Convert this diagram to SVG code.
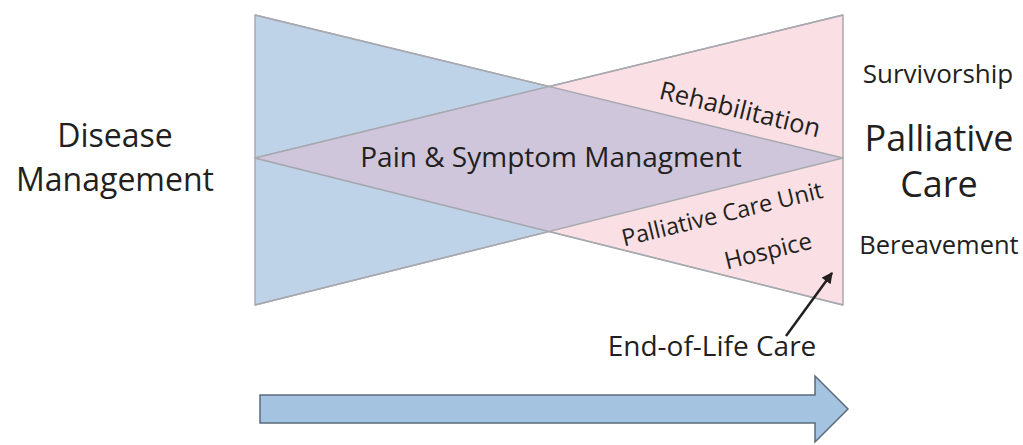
<svg xmlns="http://www.w3.org/2000/svg" width="1023" height="445" viewBox="0 0 1023 445">
<style>
text{font-family:"Open Sans","Liberation Sans",sans-serif;fill:#231f20}
.edge{stroke:#a8a9b0;stroke-width:1.5;stroke-linejoin:round}
</style>
<defs>
<marker id="ah" viewBox="0 0 10 10" refX="9" refY="5" markerWidth="12" markerHeight="11" orient="auto" markerUnits="userSpaceOnUse">
<path d="M0,0 L10,5 L0,10 z" fill="#231f20"/>
</marker>
<clipPath id="blueClip"><polygon points="255,15 843,158 255,305"/></clipPath>
</defs>
<rect width="1023" height="445" fill="#ffffff"/>
<g id="blue-triangle">
<polygon class="edge" points="255,15 843,158 255,305" fill="#bfd3e8"/>
</g>
<g id="pink-triangle">
<polygon class="edge" points="843,15 843,305 255,158" fill="#fae0e4"/>
</g>
<g id="overlap">
<polygon points="843,15 843,305 255,158" fill="#cfc6dc" clip-path="url(#blueClip)"/>
<line class="edge" x1="255" y1="15" x2="843" y2="158"/>
<line class="edge" x1="255" y1="305" x2="843" y2="158"/>
<line class="edge" x1="843" y1="15" x2="255" y2="158"/>
<line class="edge" x1="843" y1="305" x2="255" y2="158"/>
</g>
<g id="disease-management">
<text x="115" y="147" font-size="32" text-anchor="middle">Disease</text>
<text x="115" y="191" font-size="32" text-anchor="middle">Management</text>
</g>
<g id="pain-symptom">
<text x="551" y="167" font-size="28" text-anchor="middle">Pain &amp; Symptom Managment</text>
</g>
<g id="rehabilitation">
<text transform="translate(738,118) rotate(13.7)" font-size="25.5" text-anchor="middle">Rehabilitation</text>
</g>
<g id="palliative-care-unit">
<text transform="translate(724,222) rotate(-13.7)" font-size="23.5" text-anchor="middle">Palliative Care Unit</text>
</g>
<g id="hospice">
<text transform="translate(770,259) rotate(-13.7)" font-size="24" text-anchor="middle">Hospice</text>
</g>
<g id="survivorship">
<text x="938" y="83" font-size="26" text-anchor="middle">Survivorship</text>
</g>
<g id="palliative-care">
<text x="939" y="151" font-size="36" text-anchor="middle">Palliative</text>
<text x="939" y="197" font-size="36" text-anchor="middle">Care</text>
</g>
<g id="bereavement">
<text x="939" y="254" font-size="25.5" text-anchor="middle">Bereavement</text>
</g>
<g id="end-of-life">
<text x="712" y="356" font-size="28" text-anchor="middle">End-of-Life Care</text>
</g>
<g id="connectors">
<line x1="786" y1="336" x2="832" y2="273" stroke="#231f20" stroke-width="2.5" marker-end="url(#ah)"/>
</g>
<g id="timeline-arrow">
<polygon points="260,395 815,395 815,376 848,409 815,442 815,423 260,423" fill="#a3c3e0" stroke="#5b6b7c" stroke-width="1.5"/>
</g>
</svg>
